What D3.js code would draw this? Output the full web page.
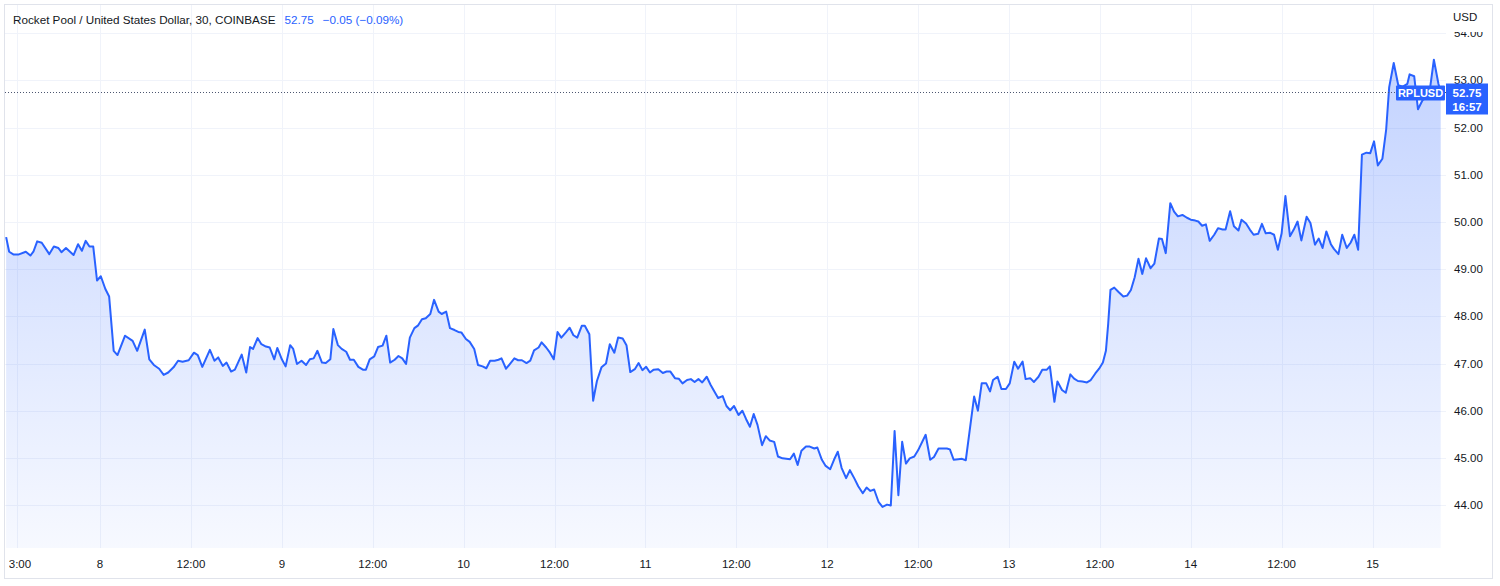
<!DOCTYPE html>
<html><head><meta charset="utf-8">
<script src="https://cdn.jsdelivr.net/npm/d3@7"></script>
<style>html,body{margin:0;padding:0;background:#fff;overflow:hidden}svg{display:block;font-family:"Liberation Sans",Arial,sans-serif}</style>
</head><body>
<svg id="chart" width="1500" height="586"></svg>
<script>
// ---- data (hours relative to day 8 00:00, 30-minute closes) ----
const hours = [
-12.4,-12.0,-11.4,-10.8,-9.8,-9.2,-8.8,-8.3,-7.7,-6.7,-6.1,-5.5,-5.1,-4.5,-3.5,-2.9,-2.4,-1.9,-1.4,-0.9,
-0.4,0.1,0.7,1.2,1.8,2.3,3.3,4.3,4.9,5.9,6.5,7.1,7.8,8.4,9.0,9.7,10.3,10.9,11.7,12.4,
12.9,13.5,14.5,15.1,15.6,16.2,16.7,17.3,17.8,18.7,19.3,
19.8,20.2,20.8,21.3,21.9,22.4,23.0,23.4,24.0,24.5,25.1,25.5,26.0,26.6,27.2,27.7,28.2,28.7,29.3,29.8,
30.4,30.8,31.4,31.9,32.5,33.0,33.5,34.1,34.7,35.1,35.6,36.2,36.7,37.3,37.8,38.3,38.9,39.4,39.9,40.4,
40.9,41.5,42.0,42.5,43.0,43.6,44.1,44.7,45.1,45.7,46.2,46.8,47.3,47.7,48.3,48.8,49.4,49.9,50.5,51.0,51.5,
52.1,52.6,53.0,53.6,54.1,54.7,55.2,55.7,56.3,56.8,57.3,57.9,58.3,58.9,59.4,59.9,60.4,60.9,61.5,62.0,
62.5,63.0,63.6,64.0,64.6,65.1,65.6,66.2,66.8,67.3,67.9,68.4,69.0,69.5,70.0,70.6,71.1,71.6,72.1,72.6,
73.1,73.7,74.3,74.8,75.3,75.9,76.4,76.9,77.5,78.0,78.5,79.0,79.5,80.1,80.6,81.2,81.6,82.2,82.7,83.2,
83.7,84.3,84.8,85.3,85.8,86.3,86.8,87.4,87.9,88.4,89.0,89.5,90.1,90.6,91.1,91.6,92.1,92.6,93.2,93.7,
94.3,94.7,95.3,95.8,96.4,96.9,97.4,97.9,98.5,99.0,99.6,100.1,100.7,101.2,101.7,102.2,102.8,103.3,103.9,104.4,
104.9,105.4,105.9,106.4,106.9,107.5,108.0,109.0,109.6,110.1,110.7,111.3,111.8,112.2,112.7,113.3,113.8,114.3,
115.4,115.9,116.4,117.0,117.5,117.9,118.5,119.0,119.6,120.1,120.7,121.2,121.8,122.2,122.8,123.3,123.9,124.4,125.0,125.4,
126.0,126.4,127.0,127.5,128.1,128.6,129.1,129.7,130.3,130.8,131.4,131.9,132.4,132.8,133.1,133.4,133.9,134.5,135.1,135.6,
136.1,136.6,137.1,137.6,138.1,138.7,139.2,139.8,140.2,140.7,141.3,141.8,142.3,142.9,143.5,144.0,144.6,145.0,145.5,146.0,
146.5,147.1,147.6,148.2,148.6,149.2,149.7,150.3,150.7,151.3,151.8,152.3,152.9,153.4,153.9,154.5,155.0,155.5,156.0,156.5,
157.1,157.6,158.1,158.6,159.3,159.8,160.4,160.9,161.4,161.9,162.5,162.9,163.5,164.0,164.6,165.1,165.6,166.1,166.6,167.2,
167.7,168.2,168.7,169.3,169.8,170.2,170.8,171.4,172.0,172.6,172.9,173.5,174.0,174.6,175.2,175.5,176.1,176.7,177.0
];
const prices = [
49.68,49.37,49.31,49.31,49.37,49.29,49.37,49.59,49.56,49.32,49.48,49.45,49.36,49.45,49.30,49.53,49.39,49.60,49.48,49.48,
48.76,48.85,48.58,48.42,47.27,47.18,47.59,47.48,47.27,47.72,47.09,46.97,46.89,46.76,46.81,46.92,47.06,47.04,47.07,47.23,
47.18,46.93,47.29,47.06,47.13,46.95,47.02,46.83,46.87,47.19,46.81,
47.35,47.31,47.54,47.41,47.36,47.34,47.09,47.33,47.09,46.94,47.39,47.31,46.99,47.06,46.97,47.09,47.11,47.27,47.02,47.01,
47.09,47.73,47.39,47.31,47.25,47.08,47.08,46.93,46.87,46.87,47.09,47.15,47.35,47.38,47.59,47.02,47.08,47.16,47.11,46.99,
47.55,47.75,47.81,47.94,47.96,48.05,48.35,48.10,48.05,48.10,47.75,47.71,47.67,47.66,47.52,47.46,47.31,46.97,46.94,46.90,47.06,
47.06,47.08,47.11,46.89,46.99,47.11,47.07,47.07,47.01,47.06,47.28,47.34,47.45,47.34,47.23,47.09,47.67,47.55,47.66,47.76,
47.60,47.55,47.80,47.80,47.62,46.21,46.63,46.92,47.00,47.41,47.23,47.55,47.53,47.39,46.82,46.88,47.01,46.86,46.93,46.81,
46.87,46.88,46.80,46.83,46.83,46.69,46.68,46.58,46.65,46.67,46.61,46.67,46.60,46.72,46.55,46.38,46.27,46.31,46.10,46.01,
46.10,45.91,46.00,45.82,45.66,45.93,45.70,45.27,45.46,45.37,45.34,45.03,44.99,44.98,44.97,45.09,44.85,45.15,45.24,45.24,
45.20,45.22,44.96,44.83,44.76,44.96,45.13,44.79,44.57,44.74,44.56,44.40,44.25,44.37,44.30,44.33,44.06,43.96,44.01,43.99,
45.57,44.21,45.34,44.88,44.99,45.03,45.16,45.49,44.96,45.02,45.20,45.20,45.20,45.18,44.96,44.97,44.98,44.95,
46.30,46.00,46.58,46.58,46.41,46.65,46.72,46.46,46.46,46.58,47.04,46.89,47.04,46.67,46.69,46.61,46.72,46.87,46.87,46.94,
46.19,46.62,46.44,46.38,46.77,46.68,46.63,46.62,46.60,46.65,46.79,46.89,47.02,47.27,47.84,48.56,48.61,48.51,48.42,48.44,
48.56,48.83,49.22,48.90,49.23,49.02,49.12,49.65,49.64,49.34,50.40,50.22,50.12,50.15,50.09,50.05,50.03,50.01,49.92,49.95,
49.60,49.73,49.87,49.84,49.84,50.23,49.91,49.82,50.05,49.97,49.84,49.73,49.75,49.96,49.76,49.77,49.73,49.41,49.76,50.55,
49.70,49.84,50.01,49.61,50.11,49.98,49.52,49.65,49.45,49.80,49.53,49.43,49.32,49.73,49.45,49.56,49.73,49.41,51.43,51.47,
51.46,51.71,51.20,51.34,51.96,52.86,53.37,52.90,52.87,52.93,53.13,53.09,52.39,52.58,52.65,52.72,53.44,52.93,52.75
];
const tickHours  = [-11, 0, 12, 24, 36, 48, 60, 72, 84, 96, 108, 120, 132, 144, 156, 168];
const tickLabels = ["13:00","8","12:00","9","12:00","10","12:00","11","12:00","12","12:00","13","12:00","14","12:00","15"];
const priceTicks = [44, 45, 46, 47, 48, 49, 50, 51, 52, 53, 54];
const viewHours  = [-12.55, 177.7];
const viewPrices = [43.09, 54.6];
const lastPrice = 52.75, lastChange = -0.05, lastChangePct = -0.09, countdown = "16:57";
const title = "Rocket Pool / United States Dollar, 30, COINBASE";
const symbol = "RPLUSD", currency = "USD";

// ---- layout ----
const W = 1500, H = 586;
const pane = {left: 5, top: 5, right: 1446, bottom: 548};
const blue = "#2962FF", grid = "#f0f3fa", textCol = "#131722";

const svg = d3.select("#chart");
const x = d3.scaleLinear().domain(viewHours).range([pane.left, pane.right]);
const y = d3.scaleLinear().domain(viewPrices).range([pane.bottom, pane.top]);
const data = hours.map((h, i) => ({h, p: prices[i]}));

const defs = svg.append("defs");
defs.append("clipPath").attr("id", "paneClip").append("rect")
  .attr("x", pane.left).attr("y", pane.top)
  .attr("width", pane.right - pane.left).attr("height", pane.bottom - pane.top);
defs.append("clipPath").attr("id", "timeClip").append("rect")
  .attr("x", pane.left + 4).attr("y", pane.bottom)
  .attr("width", pane.right - pane.left).attr("height", H - pane.bottom);
const grad = defs.append("linearGradient").attr("id", "areaGrad")
  .attr("gradientUnits", "userSpaceOnUse")
  .attr("x1", 0).attr("x2", 0)
  .attr("y1", y(d3.max(prices))).attr("y2", pane.bottom);
grad.append("stop").attr("offset", 0).attr("stop-color", blue).attr("stop-opacity", 0.28);
grad.append("stop").attr("offset", 1).attr("stop-color", blue).attr("stop-opacity", 0.04);

svg.append("rect").attr("width", W).attr("height", H).attr("fill", "#fff");

// grid
const g = svg.append("g");
g.selectAll(".hg").data(priceTicks).join("line")
  .attr("x1", pane.left).attr("x2", pane.right)
  .attr("y1", d => Math.round(y(d)) + 0.5).attr("y2", d => Math.round(y(d)) + 0.5)
  .attr("stroke", grid);
g.selectAll(".vg").data(tickHours.filter(h => x(h) > pane.left)).join("line")
  .attr("x1", d => Math.round(x(d)) + 0.5).attr("x2", d => Math.round(x(d)) + 0.5)
  .attr("y1", pane.top).attr("y2", pane.bottom)
  .attr("stroke", grid);

// outer frame
svg.append("rect").attr("x", 4.5).attr("y", 4.5).attr("width", 1488).attr("height", 574)
  .attr("fill", "none").attr("stroke", "#e0e3eb");

// area + line
const plot = svg.append("g").attr("clip-path", "url(#paneClip)");
plot.append("path").datum(data)
  .attr("d", d3.area().x(d => x(d.h)).y0(pane.bottom).y1(d => y(d.p)))
  .attr("fill", "url(#areaGrad)");
plot.append("path").datum(data)
  .attr("d", d3.line().x(d => x(d.h)).y(d => y(d.p)))
  .attr("fill", "none").attr("stroke", blue).attr("stroke-width", 2)
  .attr("stroke-linejoin", "round");

// last price dotted line
const yl = Math.round(y(lastPrice)) + 0.5;
svg.append("line").attr("x1", pane.left).attr("x2", pane.right).attr("y1", yl).attr("y2", yl)
  .attr("stroke", "#4c5670").attr("stroke-dasharray", "1,2");

// price axis labels
svg.append("g").selectAll("text").data(priceTicks).join("text")
  .attr("x", 1454).attr("y", d => y(d) + 4)
  .attr("font-size", 11.5).attr("fill", textCol)
  .text(d => d3.format(".2f")(d));

// currency label (covers the top of the highest price label)
svg.append("rect").attr("x", pane.right + 1).attr("y", 5).attr("width", 45).attr("height", 27).attr("fill", "#fff");
svg.append("text").attr("x", 1453).attr("y", 21).attr("font-size", 11.5).attr("fill", textCol).text(currency);

// symbol label
svg.append("rect").attr("x", pane.right - 50).attr("y", yl - 7).attr("width", 49).attr("height", 15)
  .attr("fill", blue).attr("rx", 1);
svg.append("text").attr("x", pane.right - 25.5).attr("y", yl + 4).attr("text-anchor", "middle")
  .attr("font-size", 11).attr("font-weight", "bold").attr("fill", "#fff").text(symbol);

// last price box
svg.append("rect").attr("x", pane.right).attr("y", yl - 9).attr("width", 42).attr("height", 31)
  .attr("fill", blue);
svg.append("text").attr("x", pane.right + 21).attr("y", yl + 4).attr("text-anchor", "middle")
  .attr("font-size", 11.5).attr("font-weight", "bold").attr("fill", "#fff").text(d3.format(".2f")(lastPrice));
svg.append("text").attr("x", pane.right + 21).attr("y", yl + 18).attr("text-anchor", "middle")
  .attr("font-size", 11.5).attr("font-weight", "bold").attr("fill", "#fff").text(countdown);

// time axis labels
svg.append("g").attr("clip-path", "url(#timeClip)").selectAll("text").data(tickHours).join("text")
  .attr("x", d => x(d)).attr("y", 568).attr("text-anchor", "middle")
  .attr("font-size", 11.5).attr("fill", textCol)
  .text((d, i) => tickLabels[i]);

// header legend
const fmtSigned = v => (v < 0 ? "\u2212" : "+") + d3.format(".2f")(Math.abs(v));
const hdr = svg.append("text").attr("x", 13).attr("y", 23.5).attr("font-size", 11.7).attr("fill", textCol);
hdr.append("tspan").text(title);
hdr.append("tspan").attr("dx", 9).attr("fill", blue).text(d3.format(".2f")(lastPrice));
hdr.append("tspan").attr("dx", 9).attr("fill", blue)
  .text(fmtSigned(lastChange) + " (" + fmtSigned(lastChangePct) + "%)");
</script>
</body></html>
